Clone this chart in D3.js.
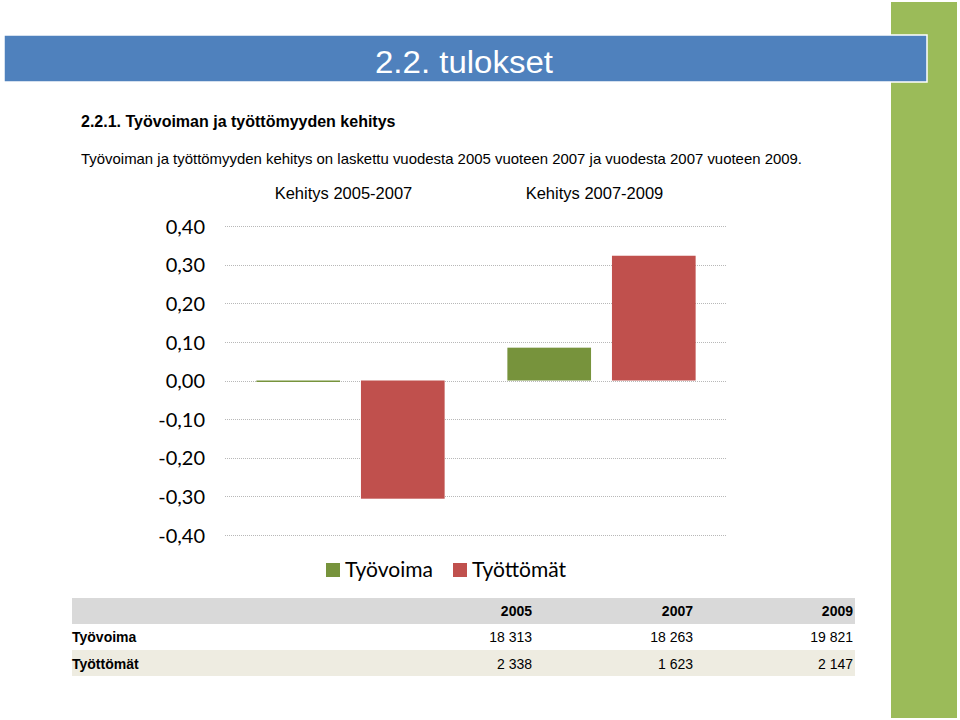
<!DOCTYPE html>
<html><head><meta charset="utf-8">
<script src="https://cdn.jsdelivr.net/npm/d3@7"></script>
<style>
html,body{margin:0;padding:0;background:#fff;}
svg{display:block;}
</style></head>
<body>
<svg id="c" width="960" height="720"></svg>
<script>
// ---- data ----
const categories = ["Kehitys 2005-2007", "Kehitys 2007-2009"];
const seriesNames = ["Työvoima", "Työttömät"];
const tyovoimaChange = [-0.003, 0.085];
const tyottomatChange = [-0.306, 0.323];
const yTicks = [0.4, 0.3, 0.2, 0.1, 0, -0.1, -0.2, -0.3, -0.4];
const tableYears = ["2005", "2007", "2009"];
const tableRows = ["Työvoima", "Työttömät"];
const tyovoimaCounts = ["18 313", "18 263", "19 821"];
const tyottomatCounts = ["2 338", "1 623", "2 147"];

const colors = {"Työvoima": "#77933c", "Työttömät": "#c0504d"};
const svg = d3.select("#c");

// side green bar
svg.append("rect").attr("x", 891).attr("y", 2).attr("width", 66).attr("height", 716).attr("fill", "#9bbb59");
// header band
svg.append("rect").attr("x", 4).attr("y", 35).attr("width", 923).attr("height", 47)
  .attr("fill", "#4f81bd").attr("stroke", "#fff").attr("stroke-width", 1.5);
svg.append("text").attr("x", 375).attr("y", 73)
  .attr("font-family", "'Liberation Sans Narrow','Arial Narrow','Liberation Sans',sans-serif")
  .attr("font-size", 31).attr("fill", "#fff")
  .attr("textLength", 178).attr("lengthAdjust", "spacingAndGlyphs")
  .text("2.2. tulokset");

svg.append("text").attr("x", 81).attr("y", 127)
  .attr("font-family", "'Liberation Sans',Arial,sans-serif").attr("font-weight", "bold")
  .attr("font-size", 16).attr("fill", "#000").text("2.2.1. Työvoiman ja työttömyyden kehitys");
svg.append("text").attr("x", 81).attr("y", 164)
  .attr("font-family", "'Liberation Sans',Arial,sans-serif")
  .attr("font-size", 14.5).attr("fill", "#000")
  .attr("textLength", 721).attr("lengthAdjust", "spacingAndGlyphs")
  .text("Työvoiman ja työttömyyden kehitys on laskettu vuodesta 2005 vuoteen 2007 ja vuodesta 2007 vuoteen 2009.");

// ---- chart ----
const x0 = d3.scaleBand().domain(categories).range([225, 727]).paddingInner(0.25).paddingOuter(0.125);
const x1 = d3.scaleBand().domain(seriesNames).range([0, x0.bandwidth()]).paddingInner(0.2);
const y = d3.scaleLinear().domain([-0.4, 0.4]).range([535, 226]);

const fmt = v => d3.format(".2f")(v).replace(".", ",").replace("−", "-");

// gridlines
svg.append("g").selectAll("line").data(yTicks).join("line")
  .attr("x1", 225).attr("x2", 727)
  .attr("y1", d => Math.round(y(d)) + 0.5).attr("y2", d => Math.round(y(d)) + 0.5)
  .attr("stroke", "#b8b8b8").attr("stroke-width", 1).attr("stroke-dasharray", "1,1");

// y axis labels via d3 axis
const yAxis = d3.axisLeft(y).tickValues(yTicks).tickFormat(fmt).tickSize(0).tickPadding(0);
const ga = svg.append("g").attr("transform", "translate(205,0)").call(yAxis);
ga.select(".domain").remove();
ga.selectAll("text").attr("font-family", "Lato,'Open Sans',sans-serif").attr("font-size", 20)
  .attr("fill", "#000").attr("dy", "0.36em");

// category labels
svg.append("g").selectAll("text").data(categories).join("text")
  .attr("x", d => x0(d) + x0.bandwidth() / 2 - 7).attr("y", 199).attr("text-anchor", "middle")
  .attr("font-family", "'Liberation Sans',Arial,sans-serif").attr("font-size", 16.5).attr("fill", "#000")
  .text(d => d);

// bars
const barData = [];
categories.forEach((c, i) => {
  barData.push({cat: c, s: "Työvoima", v: tyovoimaChange[i]});
  barData.push({cat: c, s: "Työttömät", v: tyottomatChange[i]});
});
svg.append("g").selectAll("rect").data(barData).join("rect")
  .attr("x", d => x0(d.cat) + x1(d.s))
  .attr("width", x1.bandwidth())
  .attr("y", d => Math.min(y(d.v), y(0)))
  .attr("height", d => Math.max(1.5, Math.abs(y(d.v) - y(0))))
  .attr("fill", d => colors[d.s]);

// legend
const leg = [{s: "Työvoima", x: 326}, {s: "Työttömät", x: 453}];
const lg = svg.append("g").selectAll("g").data(leg).join("g");
lg.append("rect").attr("x", d => d.x).attr("y", 563).attr("width", 14).attr("height", 14)
  .attr("fill", d => colors[d.s]);
lg.append("text").attr("x", d => d.x + 19).attr("y", 577)
  .attr("font-family", "Lato,'Open Sans',sans-serif").attr("font-size", 21).attr("fill", "#000")
  .text(d => d.s);

// ---- table ----
const narrow = "'Liberation Sans Narrow','Arial Narrow','Liberation Sans',sans-serif";
svg.append("rect").attr("x", 72).attr("y", 598).attr("width", 783).attr("height", 26).attr("fill", "#d9d9d9");
svg.append("rect").attr("x", 72).attr("y", 650).attr("width", 783).attr("height", 26).attr("fill", "#eeece1");
const colX = [532, 693, 853];
svg.append("g").selectAll("text").data(tableYears).join("text")
  .attr("x", (d, i) => colX[i]).attr("y", 616).attr("text-anchor", "end")
  .attr("font-family", narrow).attr("font-weight", "bold").attr("font-size", 14).text(d => d);
const rows = [tyovoimaCounts, tyottomatCounts];
const rowY = [642, 669];
tableRows.forEach((r, ri) => {
  svg.append("text").attr("x", 72).attr("y", rowY[ri]).attr("font-family", narrow)
    .attr("font-weight", "bold").attr("font-size", 14).text(r);
  svg.append("g").selectAll("text").data(rows[ri]).join("text")
    .attr("x", (d, i) => colX[i]).attr("y", rowY[ri]).attr("text-anchor", "end")
    .attr("font-family", narrow).attr("font-size", 14).text(d => d);
});
</script>
</body></html>
